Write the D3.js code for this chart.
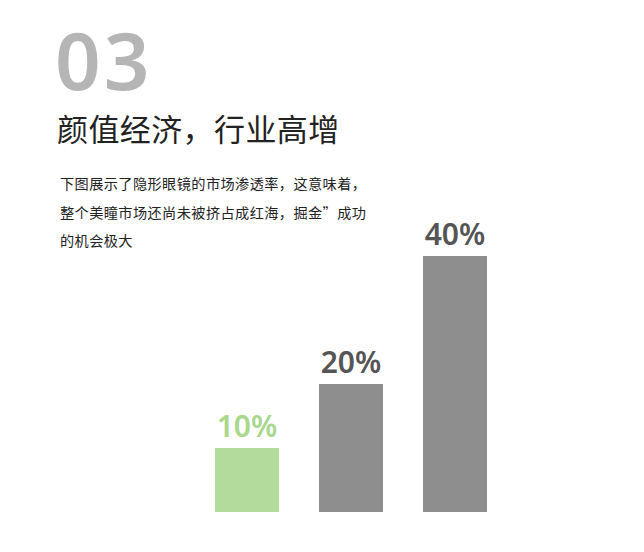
<!DOCTYPE html>
<html>
<head>
<meta charset="utf-8">
<script src="https://cdn.jsdelivr.net/npm/d3@7/dist/d3.min.js"></script>
<style>
  html, body { margin: 0; padding: 0; background: #fff; }
  svg { display: block; }
</style>
</head>
<body>
<script>
const categories = ["A", "B", "C"];
const values = [10, 20, 40];
const valueLabels = ["10%", "20%", "40%"];
const barColors = ["#b3dc9c", "#8e8e8e", "#8e8e8e"];
const labelColors = ["#a9d78e", "#555555", "#555555"];
const sectionNumber = "03";
const titleText = "颜值经济，行业高增";
const paragraphLines = [
  "下图展示了隐形眼镜的市场渗透率，这意味着，",
  "整个美瞳市场还尚未被挤占成红海，掘金”成功",
  "的机会极大"
];

const W = 644, H = 552;
const svg = d3.select("body").append("svg").attr("width", W).attr("height", H);
svg.append("rect").attr("width", W).attr("height", H).attr("fill", "#fff");

// Big number
svg.append("text")
  .attr("x", 55).attr("y", 90)
  .attr("font-family", "'Noto Sans', 'DejaVu Sans', sans-serif")
  .attr("font-weight", 600)
  .attr("font-size", 80)
  .attr("letter-spacing", 3)
  .attr("fill", "#b5b5b5")
  .text(sectionNumber);

// Title
svg.append("text")
  .attr("x", 57).attr("y", 141)
  .attr("font-family", "'Noto Sans CJK SC', sans-serif")
  .attr("font-weight", 400)
  .attr("font-size", 31)
  .attr("letter-spacing", 0.4)
  .attr("fill", "#222")
  .text(titleText);

// Paragraph
svg.append("g").selectAll("text").data(paragraphLines).join("text")
  .attr("x", 60)
  .attr("y", (d, i) => 189 + i * 28.5)
  .attr("font-family", "'Noto Sans CJK SC', sans-serif")
  .attr("font-weight", 400)
  .attr("font-size", 14.2)
  .attr("letter-spacing", 0.4)
  .attr("fill", "#222")
  .text(d => d);

// Bars
const x = d3.scaleBand().domain(categories).range([215, 487]).paddingInner(0.3846).paddingOuter(0);
const y = d3.scaleLinear().domain([0, 40]).range([512, 256]);

svg.append("g").selectAll("rect").data(values).join("rect")
  .attr("x", (d, i) => x(categories[i]))
  .attr("width", x.bandwidth())
  .attr("y", d => y(d))
  .attr("height", d => y(0) - y(d))
  .attr("fill", (d, i) => barColors[i]);

svg.append("g").selectAll("text").data(values).join("text")
  .attr("x", (d, i) => x(categories[i]) + x.bandwidth() / 2)
  .attr("y", d => y(d) - 11)
  .attr("text-anchor", "middle")
  .attr("font-family", "'Noto Sans', 'DejaVu Sans', sans-serif")
  .attr("font-weight", 600)
  .attr("font-size", 30)
  .attr("fill", (d, i) => labelColors[i])
  .text((d, i) => valueLabels[i]);
</script>
</body>
</html>
